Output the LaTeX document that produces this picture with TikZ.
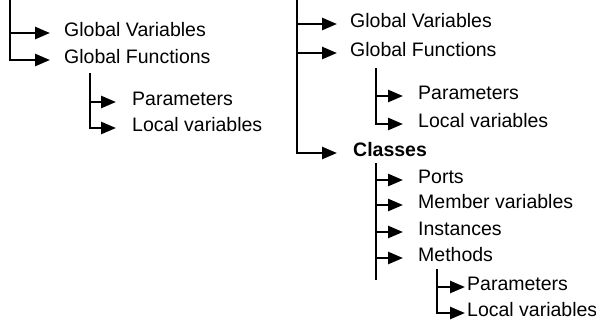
\documentclass[tikz,border=0pt]{standalone}
\usepackage{fontspec}
\setmainfont{Liberation Sans}
\usetikzlibrary{arrows.meta}
\begin{document}
\begin{tikzpicture}[x=1pt,y=-1pt,
  lbl/.style={anchor=west, inner xsep=0pt, inner ysep=0pt, text height=0.72em, text depth=0pt, font=\fontsize{19.5}{23}\selectfont},
  arr/.style={line width=2.5pt, -{Triangle[length=15pt,width=12pt]}},
  trunk/.style={line width=2.5pt},
  subtrunk/.style={line width=1.5pt}]
\useasboundingbox (0,0) rectangle (596,330);
% ---------- left tree ----------
\coordinate (l0t) at (10,0);
\node[lbl] (lgv) at (64,33) {Global Variables};
\node[lbl] (lgf) at (64,60) {Global Functions};
\draw[trunk] (l0t) -- (l0t |- lgf.west) -- ([xshift=-18pt]lgf.west);
\draw[arr] (l0t |- lgv.west) -- ([xshift=-14pt]lgv.west);
\draw[arr] ([xshift=-19pt]lgf.west) -- ([xshift=-14pt]lgf.west);
\coordinate (l1t) at (90,73);
\node[lbl] (lpa) at (132,102) {Parameters};
\node[lbl] (llv) at (132,128) {Local variables};
\draw[subtrunk] (l1t) -- (l1t |- llv.west);
\draw[arr] (l1t |- lpa.west) -- ([xshift=-16pt]lpa.west);
\draw[arr] ([xshift=-0.75pt]l1t |- llv.west) -- ([xshift=-16pt]llv.west);
% ---------- right tree ----------
\coordinate (r0t) at (297,0);
\node[lbl] (rgv) at (350,24) {Global Variables};
\node[lbl] (rgf) at (350,53) {Global Functions};
\node[lbl,font=\fontsize{19.5}{23}\selectfont\bfseries] (rcl) at (353,153) {Classes};
\draw[trunk] (r0t) -- (r0t |- rcl.west) -- ([xshift=-32pt]rcl.west);
\draw[arr] (r0t |- rgv.west) -- ([xshift=-13pt]rgv.west);
\draw[arr] (r0t |- rgf.west) -- ([xshift=-13pt]rgf.west);
\draw[arr] ([xshift=-33pt]rcl.west) -- ([xshift=-16pt]rcl.west);
% functions sub-tree
\coordinate (r1t) at (376,68);
\node[lbl] (rpa) at (418,96) {Parameters};
\node[lbl] (rlv) at (418,124) {Local variables};
\draw[subtrunk] (r1t) -- (r1t |- rlv.west);
\draw[arr] (r1t |- rpa.west) -- ([xshift=-15pt]rpa.west);
\draw[arr] ([xshift=-0.75pt]r1t |- rlv.west) -- ([xshift=-15pt]rlv.west);
% classes sub-tree
\coordinate (r2t) at (376,163);
\coordinate (r2b) at (376,280);
\node[lbl] (rpo) at (418,180) {Ports};
\node[lbl] (rmv) at (418,205) {Member variables};
\node[lbl] (rin) at (418,232) {Instances};
\node[lbl] (rme) at (418,258) {Methods};
\draw[subtrunk] (r2t) -- (r2b);
\draw[arr] (r2t |- rpo.west) -- ([xshift=-15pt]rpo.west);
\draw[arr] (r2t |- rmv.west) -- ([xshift=-15pt]rmv.west);
\draw[arr] (r2t |- rin.west) -- ([xshift=-15pt]rin.west);
\draw[arr] (r2t |- rme.west) -- ([xshift=-15pt]rme.west);
% methods sub-tree
\coordinate (r3t) at (437,269);
\node[lbl] (mpa) at (467,287) {Parameters};
\node[lbl] (mlv) at (467,313) {Local variables};
\draw[subtrunk] (r3t) -- (r3t |- mlv.west);
\draw[arr] (r3t |- mpa.west) -- ([xshift=-2pt]mpa.west);
\draw[arr] ([xshift=-0.75pt]r3t |- mlv.west) -- ([xshift=-2pt]mlv.west);
\end{tikzpicture}
\end{document}
